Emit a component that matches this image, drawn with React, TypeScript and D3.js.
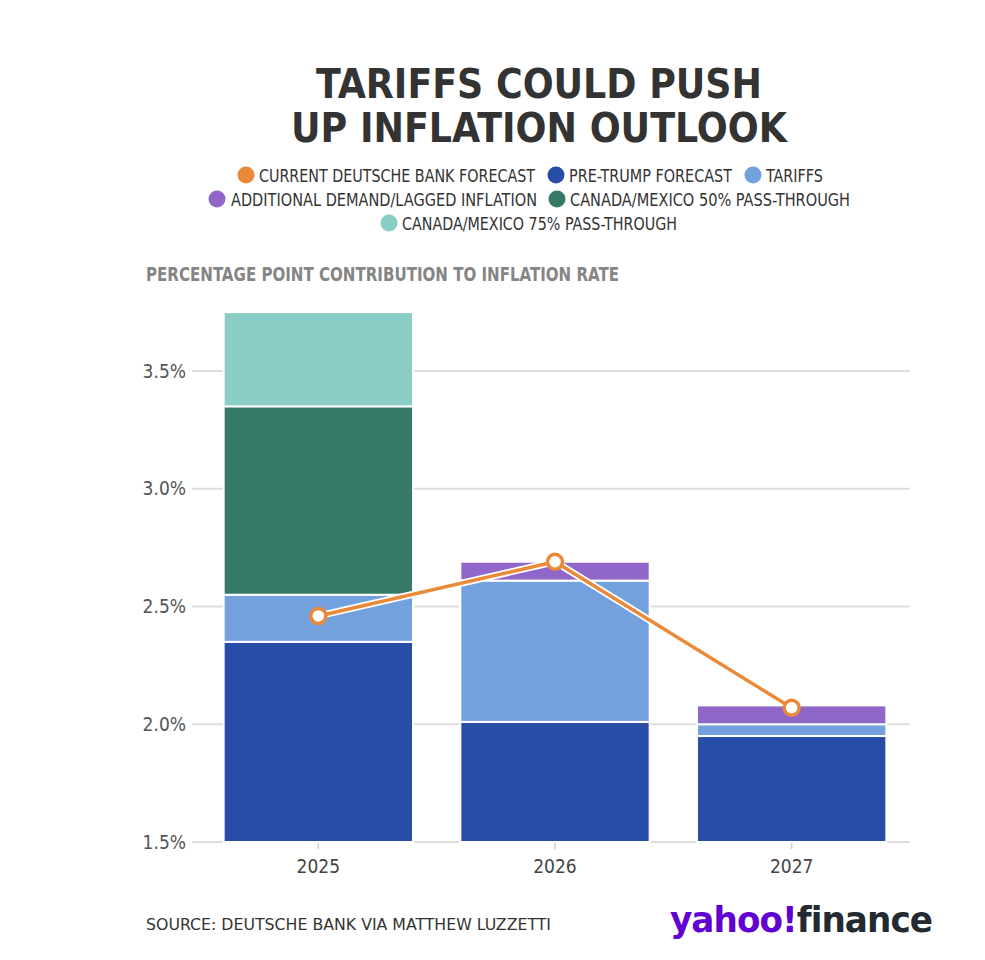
import React from "react";
import * as d3 from "d3";

const years = ["2025", "2026", "2027"];
const seriesNames = [
  "PRE-TRUMP FORECAST",
  "TARIFFS",
  "ADDITIONAL DEMAND/LAGGED INFLATION",
  "CANADA/MEXICO 50% PASS-THROUGH",
  "CANADA/MEXICO 75% PASS-THROUGH",
];
const preTrump = [2.35, 2.01, 1.95];
const tariffs = [0.2, 0.6, 0.05];
const additionalDemand = [0, 0.08, 0.08];
const canMex50 = [0.8, 0, 0];
const canMex75 = [0.4, 0, 0];
const currentForecast = [2.46, 2.69, 2.07];
const yTicks = [1.5, 2.0, 2.5, 3.0, 3.5];

const seriesColors = ["#274DA6", "#73A1DE", "#9066C8", "#357A66", "#8ACDC4"];
const orange = "#EA8A38";

const narrow = "'Liberation Sans Narrow', 'DejaVu Sans Condensed', 'Roboto Condensed', 'Arial Narrow', Roboto, sans-serif";

export default function App() {
  const W = 985, H = 960;
  const x = d3.scaleBand<string>().domain(years).range([200, 910]).paddingInner(0.2).paddingOuter(0.1);
  const y = d3.scaleLinear().domain([1.5, 3.5]).range([842, 371]);

  const rows = years.map((yr, i) => ({
    year: yr,
    s0: preTrump[i], s1: tariffs[i], s2: additionalDemand[i], s3: canMex50[i], s4: canMex75[i],
  }));
  const keys = ["s0", "s1", "s2", "s3", "s4"];
  const stacked = d3.stack<any>().keys(keys)(rows);

  const line = d3.line<number>()
    .x((_, i) => (x(years[i]) as number) + x.bandwidth() / 2)
    .y((d) => y(d));

  const legendItems = [
    { label: "CURRENT DEUTSCHE BANK FORECAST", color: orange },
    { label: seriesNames[0], color: seriesColors[0] },
    { label: seriesNames[1], color: seriesColors[1] },
    { label: seriesNames[2], color: seriesColors[2] },
    { label: seriesNames[3], color: seriesColors[3] },
    { label: seriesNames[4], color: seriesColors[4] },
  ];
  // legend layout: [circle x, text start, text length, row y]
  const legendLayout = [
    [246, 259, 276, 175],
    [556, 569, 163, 175],
    [753, 766, 57, 175],
    [217, 231, 306, 199],
    [557, 570, 280, 199],
    [389, 402, 275, 223],
  ];

  return (
    <svg width={W} height={H} style={{ display: "block", position: "absolute", left: 0, top: 0 }}>
      <rect width={W} height={H} fill="#fff" />
      <text x={539} y={98} textAnchor="middle" fontFamily={narrow} fontWeight={700} fontSize={41}
        fill="#333" textLength={446} lengthAdjust="spacingAndGlyphs">TARIFFS COULD PUSH</text>
      <text x={539} y={142} textAnchor="middle" fontFamily={narrow} fontWeight={700} fontSize={41}
        fill="#333" textLength={496} lengthAdjust="spacingAndGlyphs">UP INFLATION OUTLOOK</text>

      {legendItems.map((it, i) => {
        const [cx, tx, tl, ly] = legendLayout[i];
        return (
          <g key={it.label}>
            <circle cx={cx} cy={ly} r={8.5} fill={it.color} />
            <text x={tx} y={ly + 6.5} fontFamily={narrow} fontSize={17.5} fill="#333"
              textLength={tl} lengthAdjust="spacingAndGlyphs">{it.label}</text>
          </g>
        );
      })}

      <text x={146} y={281} fontFamily={narrow} fontWeight={700} fontSize={19} fill="#858585"
        textLength={473} lengthAdjust="spacingAndGlyphs">PERCENTAGE POINT CONTRIBUTION TO INFLATION RATE</text>

      {yTicks.map((t) => (
        <g key={t}>
          <line x1={192} x2={910} y1={y(t)} y2={y(t)} stroke="#dddddd" strokeWidth={2} />
          <text x={186} y={y(t) + 6.5} textAnchor="end" fontFamily={narrow} fontSize={19} fill="#555">
            {t.toFixed(1) + "%"}
          </text>
        </g>
      ))}

      {stacked.map((layer, li) => (
        <g key={li} fill={seriesColors[li]}>
          {layer.map((d, i) => {
            const lo = Math.max(d[0], 1.5);
            const hi = d[1];
            if (hi - d[0] <= 0) return null;
            return (
              <rect key={i} x={x(years[i])} width={x.bandwidth()}
                y={y(hi)} height={y(lo) - y(hi)} stroke="#fff" strokeWidth={2} />
            );
          })}
        </g>
      ))}

      {years.map((yr) => (
        <g key={yr}>
          <line x1={(x(yr) as number) + x.bandwidth() / 2} x2={(x(yr) as number) + x.bandwidth() / 2}
            y1={843} y2={849} stroke="#ccc" strokeWidth={1.5} />
          <text x={(x(yr) as number) + x.bandwidth() / 2} y={873} textAnchor="middle"
            fontFamily={narrow} fontSize={19} fill="#444">{yr}</text>
        </g>
      ))}

      <path d={line(currentForecast) as string} fill="none" stroke="#fff" strokeWidth={7} strokeLinejoin="round" />
      <path d={line(currentForecast) as string} fill="none" stroke={orange} strokeWidth={3.5} strokeLinejoin="round" />
      {currentForecast.map((v, i) => (
        <circle key={i} cx={(x(years[i]) as number) + x.bandwidth() / 2} cy={y(v)} r={7.5}
          fill="#fff" stroke={orange} strokeWidth={3.5} />
      ))}

      <text x={146} y={930} fontFamily={narrow} fontSize={16} fill="#333"
        textLength={405} lengthAdjust="spacingAndGlyphs">SOURCE: DEUTSCHE BANK VIA MATTHEW LUZZETTI</text>

      <text x={670} y={932} fontFamily="'DejaVu Sans', 'Liberation Sans', sans-serif" fontWeight={900} fontSize={36}
        textLength={262} lengthAdjust="spacingAndGlyphs" letterSpacing={-1}>
        <tspan fill="#6001D2">yahoo!</tspan><tspan fill="#232A31">finance</tspan>
      </text>
    </svg>
  );
}
